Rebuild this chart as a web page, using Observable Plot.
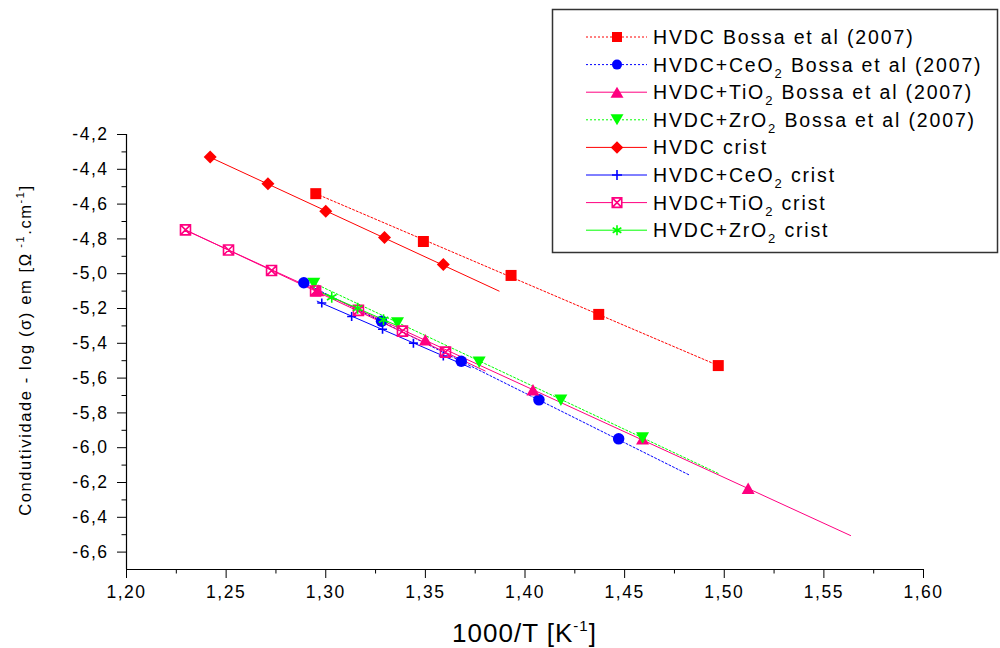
<!DOCTYPE html>
<html><head><meta charset="utf-8">
<script src="https://cdn.jsdelivr.net/npm/d3@7"></script>
<script src="https://cdn.jsdelivr.net/npm/@observablehq/plot@0.6"></script>
<style>
html,body{margin:0;padding:0;background:#fff;}
#chart{position:relative;width:1000px;height:648px;}
</style></head><body><div id="chart"></div>
<script>
// ---------- data ----------
const xTicksMajor = [1.20, 1.25, 1.30, 1.35, 1.40, 1.45, 1.50, 1.55, 1.60];
const xTicksMinor = [1.225, 1.275, 1.325, 1.375, 1.425, 1.475, 1.525, 1.575];
const yTicksMajor = [-4.2, -4.4, -4.6, -4.8, -5.0, -5.2, -5.4, -5.6, -5.8, -6.0, -6.2, -6.4, -6.6];
const yTicksMinor = [-4.3, -4.5, -4.7, -4.9, -5.1, -5.3, -5.5, -5.7, -5.9, -6.1, -6.3, -6.5];

const seriesNames = [
  "HVDC Bossa et al (2007)", "HVDC+CeO2 Bossa et al (2007)", "HVDC+TiO2 Bossa et al (2007)", "HVDC+ZrO2 Bossa et al (2007)",
  "HVDC crist", "HVDC+CeO2 crist", "HVDC+TiO2 crist", "HVDC+ZrO2 crist"
];

const hvdcBossaX = [1.295, 1.349, 1.393, 1.437, 1.497];
const hvdcBossaY = [-4.54, -4.815, -5.01, -5.234, -5.528];
const ceo2BossaX = [1.289, 1.328, 1.368, 1.407, 1.447];
const ceo2BossaY = [-5.052, -5.273, -5.503, -5.725, -5.949];
const tio2BossaX = [1.296, 1.350, 1.404, 1.459, 1.512];
const tio2BossaY = [-5.097, -5.380, -5.667, -5.949, -6.233];
const zro2BossaX = [1.294, 1.336, 1.377, 1.418, 1.459];
const zro2BossaY = [-5.056, -5.284, -5.509, -5.727, -5.944];
const hvdcCristX = [1.242, 1.271, 1.300, 1.3295, 1.359];
const hvdcCristY = [-4.330, -4.483, -4.641, -4.792, -4.947];
const ceo2CristX = [1.298, 1.313, 1.3285, 1.344, 1.359];
const ceo2CristY = [-5.168, -5.246, -5.319, -5.399, -5.473];
const tio2CristX = [1.2296, 1.2512, 1.2728, 1.2949, 1.3164, 1.3385, 1.3601];
const tio2CristY = [-4.748, -4.864, -4.982, -5.099, -5.211, -5.330, -5.451];
const zro2CristX = [1.303, 1.316, 1.329];
const zro2CristY = [-5.135, -5.198, -5.265];

// fitted straight lines (end points), in series order
const fitX0 = [1.295, 1.289, 1.2296, 1.2944, 1.2418, 1.2957, 1.2296, 1.296];
const fitY0 = [-4.54, -5.052, -4.750, -5.056, -4.330, -5.158, -4.748, -5.099];
const fitX1 = [1.497, 1.483, 1.5634, 1.497, 1.387, 1.3726, 1.380, 1.336];
const fitY1 = [-5.528, -6.160, -6.505, -6.148, -5.100, -5.540, -5.559, -5.299];

// ---------- styles ----------
const RED = "#ff0000", BLUE = "#0000ff", PINK = "#ff0080", GREEN = "#00ff00";
const sym = {
  square: s => ({draw(c){c.moveTo(-s/2,-s/2);c.lineTo(s/2,-s/2);c.lineTo(s/2,s/2);c.lineTo(-s/2,s/2);c.closePath();}}),
  circle: s => ({draw(c){c.moveTo(s/2,0);c.arc(0,0,s/2,0,2*Math.PI);c.closePath();}}),
  triUp: (w,h) => ({draw(c){c.moveTo(0,-h/2);c.lineTo(w/2,h/2);c.lineTo(-w/2,h/2);c.closePath();}}),
  triDown: (w,h) => ({draw(c){c.moveTo(-w/2,-h/2);c.lineTo(w/2,-h/2);c.lineTo(0,h/2);c.closePath();}}),
  diamond: s => ({draw(c){c.moveTo(0,-s/2);c.lineTo(s/2,0);c.lineTo(0,s/2);c.lineTo(-s/2,0);c.closePath();}}),
  plus: s => ({draw(c){c.moveTo(-s/2,0);c.lineTo(s/2,0);c.moveTo(0,-s/2);c.lineTo(0,s/2);}}),
  boxX: s => ({draw(c){c.moveTo(-s/2,-s/2);c.lineTo(s/2,-s/2);c.lineTo(s/2,s/2);c.lineTo(-s/2,s/2);c.closePath();
                       c.moveTo(-s/2,-s/2);c.lineTo(s/2,s/2);c.moveTo(s/2,-s/2);c.lineTo(-s/2,s/2);}}),
  asterisk: s => ({draw(c){const r=s/2, a=r*Math.cos(Math.PI/6), b=r*Math.sin(Math.PI/6);
                       c.moveTo(0,-r);c.lineTo(0,r);c.moveTo(-a,-b);c.lineTo(a,b);c.moveTo(-a,b);c.lineTo(a,-b);}})
};
const styles = [
  {color: RED,   dash: "2,2", sym: sym.square(11),      filled: true},
  {color: BLUE,  dash: "2,2", sym: sym.circle(11.5),    filled: true},
  {color: PINK,  dash: null,  sym: sym.triUp(13,11.5),  filled: true},
  {color: GREEN, dash: "2,2", sym: sym.triDown(13,11.5),filled: true},
  {color: RED,   dash: null,  sym: sym.diamond(13),     filled: true},
  {color: BLUE,  dash: null,  sym: sym.plus(9),         filled: false},
  {color: PINK,  dash: null,  sym: sym.boxX(10),        filled: false},
  {color: GREEN, dash: null,  sym: sym.asterisk(11),    filled: false}
];
const legendSym = [
  sym.square(10), sym.circle(10), sym.triUp(13,11), sym.triDown(13,11),
  sym.diamond(12.5), sym.plus(10), sym.boxX(9.5), sym.asterisk(10)
];

const seriesX = [hvdcBossaX, ceo2BossaX, tio2BossaX, zro2BossaX, hvdcCristX, ceo2CristX, tio2CristX, zro2CristX];
const seriesY = [hvdcBossaY, ceo2BossaY, tio2BossaY, zro2BossaY, hvdcCristY, ceo2CristY, tio2CristY, zro2CristY];

const FONT = '"Liberation Sans", Arial, sans-serif';
const fmtX = d => d.toFixed(2).replace(".", ",");
const fmtY = d => d.toFixed(1).replace(".", ",");

const marks = [
  Plot.ruleX([1.2], {y1: -6.7, y2: -4.2, stroke: "black", strokeWidth: 1.2}),
  Plot.ruleY([-6.7], {x1: 1.2, x2: 1.6, stroke: "black", strokeWidth: 1.2}),
  Plot.axisX({ticks: xTicksMajor, tickSize: 9, tickPadding: 7, tickFormat: fmtX, label: null, stroke: "black", fontSize: 17.5}),
  Plot.axisX({ticks: xTicksMinor, tickSize: 4.5, tickFormat: () => "", label: null, stroke: "black"}),
  Plot.axisY({ticks: yTicksMajor, tickSize: 9, tickPadding: 9, tickFormat: fmtY, label: null, stroke: "black", fontSize: 17.5}),
  Plot.axisY({ticks: yTicksMinor, tickSize: 4.5, tickFormat: () => "", label: null, stroke: "black"})
];
// fit lines
styles.forEach((st, i) => {
  const seg = [{x: fitX0[i], y: fitY0[i]}, {x: fitX1[i], y: fitY1[i]}];
  marks.push(Plot.line(seg, {x: "x", y: "y", stroke: st.color, strokeWidth: 1, strokeDasharray: st.dash || undefined}));
});
// points
styles.forEach((st, i) => {
  const pts = seriesX[i].map((x, j) => ({x, y: seriesY[i][j]}));
  marks.push(Plot.dot(pts, st.filled
    ? {x: "x", y: "y", symbol: st.sym, fill: st.color, stroke: "none", r: 5}
    : {x: "x", y: "y", symbol: st.sym, fill: "none", stroke: st.color, strokeWidth: 1.6, r: 5}));
});

const svgEl = Plot.plot({
  width: 1000, height: 648,
  marginLeft: 126, marginRight: 77, marginTop: 134, marginBottom: 79,
  x: {domain: [1.2, 1.6]},
  y: {domain: [-6.7, -4.2]},
  style: {fontFamily: FONT, fontSize: "17px", background: "white", color: "black"},
  marks
});
document.getElementById("chart").appendChild(svgEl);

const s = d3.select(svgEl);
s.selectAll("g[aria-label='x-axis tick label'], g[aria-label='y-axis tick label']")
  .attr("letter-spacing", "1.5px").style("letter-spacing", "1.5px");
// axis titles
const xt = s.append("text").attr("x", 524.5).attr("y", 642).attr("text-anchor", "middle")
  .attr("font-size", 26).attr("letter-spacing", "1px").attr("fill", "black");
xt.append("tspan").text("1000/T [K");
xt.append("tspan").attr("font-size", 15).attr("dy", -11).text("-1");
xt.append("tspan").attr("dy", 11).text("]");

const yt = s.append("text").attr("transform", "translate(31,350) rotate(-90)").attr("text-anchor", "middle")
  .attr("font-size", 16.5).attr("letter-spacing", "1.6px").attr("fill", "black");
yt.append("tspan").text("Condutividade - log (σ) em [Ω");
yt.append("tspan").attr("font-size", 11).attr("dy", -7).text(" -1");
yt.append("tspan").attr("dy", 7).text(".cm");
yt.append("tspan").attr("font-size", 11).attr("dy", -7).text("-1");
yt.append("tspan").attr("dy", 7).text("]");

// legend
const lg = s.append("g").attr("text-anchor", "start");
lg.append("rect").attr("x", 552.5).attr("y", 9.5).attr("width", 445).attr("height", 243)
  .attr("fill", "white").attr("stroke", "#333").attr("stroke-width", 1.5);
seriesNames.forEach((name, i) => {
  const st = styles[i];
  const cy = 37 + i * 27.6;
  lg.append("line").attr("x1", 586).attr("x2", 647).attr("y1", cy).attr("y2", cy)
    .attr("stroke", st.color).attr("stroke-width", 1).attr("stroke-dasharray", st.dash);
  lg.append("path").attr("transform", `translate(617,${cy})`).attr("d", d3.symbol(legendSym[i])())
    .attr("fill", st.filled ? st.color : "white").attr("stroke", st.filled ? "none" : st.color)
    .attr("stroke-width", st.filled ? 0 : 1.6);
  const t = lg.append("text").attr("x", 653).attr("y", cy + 7).attr("font-size", 19.5)
    .attr("text-anchor", "start").attr("letter-spacing", "1.85px").attr("fill", "black");
  const m = name.match(/^(.*O)2(.*)$/);
  if (m) {
    t.append("tspan").text(m[1]);
    t.append("tspan").attr("font-size", 13).attr("dy", 6).text("2");
    t.append("tspan").attr("dy", -6).text(m[2]);
  } else {
    t.text(name);
  }
});
</script>
</body></html>
